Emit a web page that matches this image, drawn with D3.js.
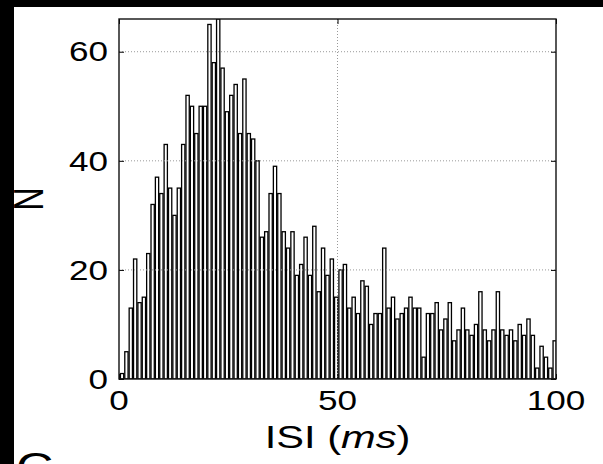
<!DOCTYPE html>
<html>
<head>
<meta charset="utf-8">
<script src="https://cdn.jsdelivr.net/npm/d3@7"></script>
<style>
  body { margin: 0; background: #fff; }
  svg { display: block; }
</style>
</head>
<body>
<svg id="chart" width="603" height="464"></svg>
<script>
// spike counts per 1 ms ISI bin
var isiCounts = [
  1, 5, 13, 22, 14, 15, 23, 32, 37, 34,
  43, 35, 30, 35, 43, 52, 50, 45, 50, 50,
  65, 58, 66, 57, 49, 52, 54, 45, 55, 45,
  44, 40, 26, 27, 34, 39, 34, 27, 24, 27,
  19, 21, 26, 19, 28, 16, 24, 19, 22, 15,
  20, 21, 13, 15, 12, 18, 17, 10, 12, 12,
  24, 13, 15, 11, 12, 13, 15, 13, 13, 4,
  12, 12, 14, 9, 11, 14, 7, 9, 13, 9,
  8, 10, 16, 9, 7, 9, 16, 9, 8, 9,
  7, 10, 8, 11, 8, 2, 6, 4, 2, 7
];
var binEdges = d3.range(0, 100); // left edge of each 1 ms bin
var xTicks = [0, 50, 100];
var yTicks = [0, 20, 40, 60];
var xGrid = [50];
var yGrid = [20, 40, 60];
var xMax = 100, yMax = 66;

var svg = d3.select("#chart");
var pLeft = 119, pRight = 556, pTop = 19, pBottom = 379;
var stretch = 1.3; // the figure is squeezed wider than tall

var x = d3.scaleLinear().domain([0, xMax]).range([pLeft, pRight]);
var y = d3.scaleLinear().domain([0, yMax]).range([pBottom, pTop]);

// black borders of the scanned page
svg.append("rect").attr("x", 0).attr("y", 0).attr("width", 603).attr("height", 7).attr("fill", "#000");
svg.append("rect").attr("x", 0).attr("y", 0).attr("width", 14).attr("height", 464).attr("fill", "#000");

svg.append("clipPath").attr("id", "plotclip")
  .append("rect")
  .attr("x", pLeft).attr("y", pTop)
  .attr("width", pRight - pLeft).attr("height", pBottom - pTop);

var plot = svg.append("g").attr("clip-path", "url(#plotclip)");

var barW = 0.75;
plot.selectAll(".bar")
  .data(binEdges)
  .enter()
  .append("rect")
  .attr("class", "bar")
  .attr("x", function (d) { return x(d + 0.7 - barW / 2); })
  .attr("width", x(barW) - x(0))
  .attr("y", function (d, i) { return y(isiCounts[i]); })
  .attr("height", function (d, i) { return y(0) - y(isiCounts[i]); })
  .attr("fill", "#fff")
  .attr("stroke", "#000")
  .attr("stroke-width", 1.3);

// dotted grid, drawn over the bars as in the original
plot.selectAll(".hgrid")
  .data(yGrid)
  .enter()
  .append("line")
  .attr("x1", pLeft).attr("x2", pRight)
  .attr("y1", function (d) { return y(d); })
  .attr("y2", function (d) { return y(d); })
  .attr("stroke", "#999")
  .attr("stroke-dasharray", "1,2");

plot.selectAll(".vgrid")
  .data(xGrid)
  .enter()
  .append("line")
  .attr("y1", pTop).attr("y2", pBottom)
  .attr("x1", function (d) { return x(d); })
  .attr("x2", function (d) { return x(d); })
  .attr("stroke", "#999")
  .attr("stroke-dasharray", "1,2");

// axes box with inward ticks on all sides
svg.append("g")
  .attr("transform", "translate(0," + pBottom + ")")
  .call(d3.axisBottom(x).tickValues(xTicks).tickSize(-5).tickFormat(""))
  .call(function (g) { g.select(".domain").remove(); });
svg.append("g")
  .attr("transform", "translate(0," + pTop + ")")
  .call(d3.axisTop(x).tickValues(xTicks).tickSize(-5).tickFormat(""))
  .call(function (g) { g.select(".domain").remove(); });
svg.append("g")
  .attr("transform", "translate(" + pLeft + ",0)")
  .call(d3.axisLeft(y).tickValues(yTicks).tickSize(-5).tickFormat(""))
  .call(function (g) { g.select(".domain").remove(); });
svg.append("g")
  .attr("transform", "translate(" + pRight + ",0)")
  .call(d3.axisRight(y).tickValues(yTicks).tickSize(-5).tickFormat(""))
  .call(function (g) { g.select(".domain").remove(); });

svg.append("rect")
  .attr("x", pLeft).attr("y", pTop)
  .attr("width", pRight - pLeft).attr("height", pBottom - pTop)
  .attr("fill", "none")
  .attr("stroke", "#111")
  .attr("stroke-width", 1.4);

var font = "'Liberation Sans', Arial, Helvetica, sans-serif";

// tick labels
svg.selectAll(".xlab")
  .data(xTicks)
  .enter()
  .append("text")
  .attr("transform", function (d) { return "translate(" + x(d) + ",410) scale(" + stretch + ",1)"; })
  .attr("text-anchor", "middle")
  .attr("font-family", font)
  .attr("font-size", 27)
  .attr("fill", "#000")
  .text(function (d) { return d; });

svg.selectAll(".ylab")
  .data(yTicks)
  .enter()
  .append("text")
  .attr("transform", function (d) { return "translate(108," + (y(d) + 9.7) + ") scale(" + stretch + ",1)"; })
  .attr("text-anchor", "end")
  .attr("font-family", font)
  .attr("font-size", 27)
  .attr("fill", "#000")
  .text(function (d) { return d; });

// axis titles
var xt = svg.append("text")
  .attr("transform", "translate(" + ((pLeft + pRight) / 2) + ",448) scale(" + stretch + ",1)")
  .attr("text-anchor", "middle")
  .attr("font-family", font)
  .attr("font-size", 32)
  .attr("fill", "#000");
xt.append("tspan").text("ISI (");
xt.append("tspan").attr("font-style", "italic").text("ms");
xt.append("tspan").text(")");

svg.append("text")
  .attr("transform", "translate(43," + ((pTop + pBottom) / 2) + ") scale(" + stretch + ",1) rotate(-90)")
  .attr("text-anchor", "middle")
  .attr("font-family", font)
  .attr("font-size", 32)
  .attr("fill", "#000")
  .text("N");

// top of the next panel's letter, cut by the page edge
svg.append("text")
  .attr("transform", "translate(16,481) scale(" + stretch + ",1)")
  .attr("font-family", font)
  .attr("font-size", 40)
  .attr("fill", "#000")
  .text("C");
</script>
</body>
</html>
